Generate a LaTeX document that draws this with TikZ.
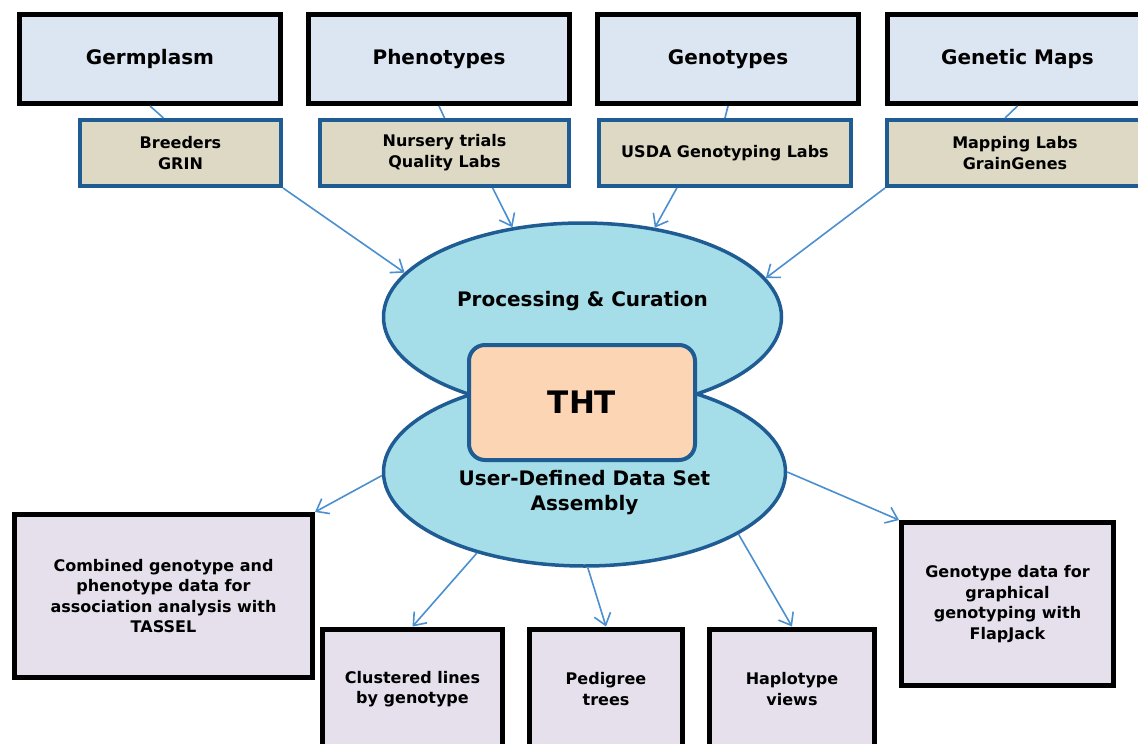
\documentclass[tikz,border=0pt]{standalone}
\usepackage{fontspec}
\setmainfont{DejaVu Sans}
\usetikzlibrary{shapes.geometric,arrows.meta}
\usepackage{xcolor}
\definecolor{boxline}{HTML}{1F5C94}
\definecolor{paleblue}{HTML}{DCE6F2}
\definecolor{paletan}{HTML}{DDD9C4}
\definecolor{skyblue}{HTML}{A5DDE8}
\definecolor{peach}{HTML}{FCD5B5}
\definecolor{palelilac}{HTML}{E5E0EC}
\definecolor{arrowblue}{HTML}{4A8FD0}

\begin{document}
\begin{tikzpicture}[x=1pt,y=-1pt,>={Straight Barb[length=11pt,width=17pt]}]
\tikzstyle{topic}=[draw=black,line width=5pt,fill=paleblue,minimum width=261pt,minimum height=89pt,font=\bfseries\fontsize{20}{24}\selectfont]
\tikzstyle{source}=[draw=boxline,line width=4pt,fill=paletan,minimum height=66pt,align=center,font=\bfseries\fontsize{16}{21}\selectfont]
\tikzstyle{hub}=[ellipse,draw=boxline,line width=3.5pt,fill=skyblue,minimum width=398pt,minimum height=188pt,inner sep=0pt]
\tikzstyle{hubtext}=[align=center,font=\bfseries\fontsize{20}{25}\selectfont]
\tikzstyle{output}=[draw=black,line width=5pt,fill=palelilac,align=center,font=\bfseries\fontsize{16}{20.5}\selectfont]
\tikzstyle{link}=[arrowblue,line width=1.6pt]
\useasboundingbox (0,0) rectangle (1138,744);

% data categories and where they come from
\node[topic] (germ) at (150,59) {Germplasm};
\node[topic] (phen) at (439,59) {Phenotypes};
\node[topic] (geno) at (728,59) {Genotypes};
\node[topic] (maps) at (1017.5,59) {Genetic Maps};
\node[source,minimum width=201pt] (breed) at (180.5,153) {Breeders\\GRIN};
\node[source,minimum width=249pt] (nurs) at (444.5,153) {Nursery trials\\Quality Labs};
\node[source,minimum width=252pt] (usda) at (725,153) {USDA Genotyping Labs};
\node[source,minimum width=256pt] (mapl) at (1015,153) {Mapping Labs\\GrainGenes};
\draw[link] (germ.south) -- ([xshift=-17pt]breed.north);
\draw[link] (phen.south) -- (nurs.north);
\draw[link] (geno.south) -- (usda.north);
\draw[link] (maps.south) -- ([xshift=-10pt]mapl.north);

% the database core
\node[hub,label={[hubtext,yshift=16pt]center:Processing \& Curation}] (top) at (582.5,317) {};
\node[hub,minimum width=402pt,label={[hubtext,yshift=-21pt]center:User-Defined Data Set\\Assembly}] (low) at (584.5,472) {};
\node[draw=boxline,line width=4pt,fill=peach,rounded corners=16pt,minimum width=226pt,minimum height=115pt,font=\bfseries\fontsize{31}{36}\selectfont] (tht) at (582,402.5) {THT};

% outputs
\node[output,minimum width=298pt,minimum height=163pt] (tassel) at (163.5,596) {Combined genotype and\\phenotype data for\\association analysis with\\TASSEL};
\node[output,minimum width=180pt,minimum height=120pt] (clus) at (412.5,689) {Clustered lines\\by genotype};
\node[output,minimum width=153pt,minimum height=120pt] (ped) at (606,689) {Pedigree\\trees};
\node[output,minimum width=165pt,minimum height=120pt] (hap) at (792,689) {Haplotype\\views};
\node[output,minimum width=212pt,minimum height=163pt] (flap) at (1007.5,604) {Genotype data for\\graphical\\genotyping with\\FlapJack};

\draw[link,->] (breed.south east) -- (top.166);
\draw[link,->] (nurs.-36) -- (top.128);
\draw[link,->] (usda.216) -- (top.51);
\draw[link,->] (mapl.south west) -- (top.12);
\draw[link,->] (low.181) -- (tassel.north east);
\draw[link,->] (low.217) -- (clus.north);
\draw[link,->] (low.272) -- (ped.north);
\draw[link,->] (low.-22) -- (hap.north);
\draw[link,->] (low.0) -- (flap.north west);
\end{tikzpicture}
\end{document}
